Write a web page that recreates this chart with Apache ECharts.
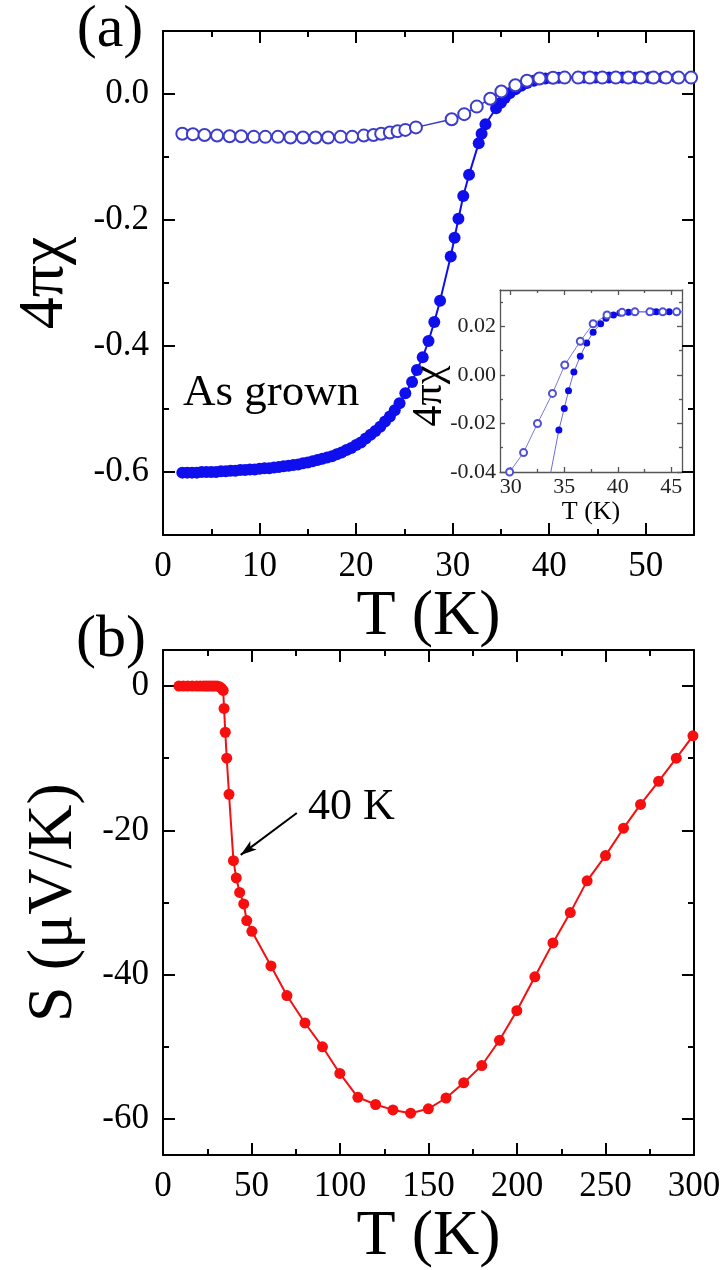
<!DOCTYPE html>
<html>
<head>
<meta charset="utf-8">
<script src="https://cdn.jsdelivr.net/npm/echarts@6/dist/echarts.min.js"></script>
<style>
  html, body { margin: 0; padding: 0; background: #fff; }
  #chart { width: 727px; height: 1270px; }
</style>
</head>
<body>
<div id="chart"></div>
<script>
// (a) susceptibility, zero-field-cooled (filled) and field-cooled (open)
const zfcT = [2.0, 2.5, 3.0, 3.5, 4.0, 4.5, 5.0, 5.5, 6.0, 6.5, 7.0, 7.5, 8.0, 8.5, 9.0, 9.5, 10.0, 10.5, 11.0, 11.5,
	12.0, 12.5, 13.0, 13.5, 14.0, 14.5, 15.0, 15.5, 16.0, 16.5, 17.0, 17.5, 18.0, 18.5, 19.0, 19.5, 20.0, 20.5, 21.0, 21.5,
	22.0, 22.5, 23.0, 23.5, 24.0, 24.5, 25.1, 25.8, 26.3, 26.9, 27.5, 28.1, 28.7, 29.8, 30.2, 30.6, 31.1, 31.7, 32.7, 33.0,
	33.4, 34.5, 35.0, 35.4, 35.9, 36.5, 37.1, 37.7, 38.4, 38.9, 39.6, 40.2, 41.0, 41.6, 43.2, 43.6, 44.8, 46.2, 47.6, 49.0,
	50.4, 51.8, 53.2, 54.6];
const zfcChi = [-0.601, -0.601, -0.601, -0.601, -0.600, -0.600, -0.600, -0.600, -0.599, -0.599, -0.598, -0.598, -0.597, -0.597, -0.596, -0.596, -0.595, -0.594, -0.594, -0.593,
	-0.592, -0.591, -0.590, -0.589, -0.588, -0.586, -0.585, -0.583, -0.581, -0.579, -0.577, -0.575, -0.572, -0.569, -0.565, -0.562, -0.557, -0.553, -0.547, -0.541,
	-0.535, -0.528, -0.520, -0.512, -0.502, -0.491, -0.475, -0.457, -0.438, -0.418, -0.392, -0.362, -0.328, -0.258, -0.228, -0.198, -0.162, -0.128, -0.078, -0.063,
	-0.048, -0.0227, -0.0138, -0.0065, 0.0012, 0.0077, 0.0132, 0.0176, 0.0211, 0.0234, 0.0247, 0.0255, 0.0258, 0.026, 0.026, 0.026, 0.026, 0.026, 0.026, 0.026,
	0.026, 0.026, 0.026, 0.026];
const fcT = [2.0, 3.1, 4.3, 5.6, 6.9, 8.1, 9.4, 10.6, 11.9, 13.2, 14.5, 15.8, 17.1, 18.4, 19.6, 20.8, 21.8, 22.6, 23.5, 24.3,
	25.1, 26.2, 29.9, 31.2, 32.5, 33.9, 35.05, 36.5, 37.7, 39.0, 40.4, 41.6, 43.0, 44.2, 45.5, 46.9, 48.2, 49.5, 50.8, 52.1,
	53.4, 54.7];
const fcChi = [-0.063, -0.064, -0.065, -0.066, -0.067, -0.067, -0.068, -0.068, -0.068, -0.069, -0.069, -0.069, -0.069, -0.068, -0.068, -0.066, -0.065, -0.063, -0.061, -0.059,
	-0.057, -0.053, -0.040, -0.032, -0.020, -0.0076, 0.0041, 0.0139, 0.0211, 0.0247, 0.0258, 0.026, 0.026, 0.026, 0.026, 0.026, 0.026, 0.026, 0.026, 0.026,
	0.026, 0.026];

// (b) thermopower
const sT = [9, 11.5, 14, 16.5, 19, 21, 23, 24.5, 26, 27.5, 29, 30.5, 32, 33, 34, 34.5, 35.2, 36.0, 37.3, 39.8,
	41.4, 43.3, 45.6, 47.3, 50.2, 61, 70, 80.2, 90.1, 99.9, 110.1, 120.1, 129.9, 139.9, 149.9, 159.9, 169.9, 180.1, 190.1, 199.9,
	210.1, 220.3, 230.1, 239.6, 250, 260.2, 269.8, 280, 290, 299.4];
const sVal = [0, 0, 0, 0, 0, 0, 0, 0, 0, 0, 0, 0, -0.1, -0.3, -0.6, -3.1, -6.4, -10.0, -15.0, -24.2,
	-26.6, -28.6, -30.2, -32.5, -34.0, -38.8, -42.9, -46.7, -50.0, -53.7, -57.0, -58.0, -58.75, -59.2, -58.6, -57.1, -55.0, -52.6, -49.1, -45.0,
	-40.3, -35.6, -31.4, -27.0, -23.5, -19.7, -16.4, -13.2, -10.0, -6.9];
const arrowFrom = [75.6, -17.6];
const arrowTo = [43.9, -23.4];

// ticks
const aXMajor = [0, 10, 20, 30, 40, 50];
const aXMinor = [5, 15, 25, 35, 45];
const aYMajor = [-0.6, -0.4, -0.2, 0];
const aYMinor = [-0.5, -0.3, -0.1];
const bXMajor = [0, 50, 100, 150, 200, 250, 300];
const bXMinor = [25, 75, 125, 175, 225, 275];
const bYMajor = [-60, -40, -20, 0];
const bYMinor = [-50, -30, -10];
const iXMajor = [30, 35, 40, 45];
const iXMinor = [32.5, 37.5, 42.5];
const iYMajor = [-0.04, -0.02, 0, 0.02];
const iYMinor = [-0.03, -0.01, 0.01, 0.03];

const FONT = 'Liberation Serif';

function pairs(xs, ys) {
	return xs.map(function (x, i) { return [x, ys[i]]; });
}

// four axes per dimension: labelled side major/minor, mirrored side major/minor
function frame(dim, grid, min, max, major, minor, st) {
	const sides = dim === 'x' ? ['bottom', 'top'] : ['left', 'right'];
	const list = [];
	sides.forEach(function (pos, s) {
		[major, minor].forEach(function (vals, m) {
			const first = s === 0 && m === 0;
			list.push({
				type: 'value', gridIndex: grid, position: pos, min: min, max: max,
				name: first ? st.name : '',
				nameLocation: 'middle', nameGap: st.nameGap, nameRotate: dim === 'y' ? 90 : 0,
				nameTextStyle: { fontFamily: FONT, fontSize: st.nameSize, color: '#000' },
				axisLine: { show: m === 0, onZero: false, lineStyle: { color: st.color, width: st.lw } },
				axisTick: { show: true, inside: true, length: m === 0 ? st.tick : st.minorTick, customValues: vals,
					lineStyle: { color: st.color, width: st.lw } },
				axisLabel: { show: first, customValues: major, margin: st.margin, fontFamily: FONT,
					fontSize: st.labelSize, color: st.labelColor, formatter: st.fmt },
				splitLine: { show: false },
				minorTick: { show: false }
			});
		});
	});
	return list;
}

const mainStyle = { color: '#000', lw: 2, tick: 12, minorTick: 6, margin: 14, labelSize: 35, labelColor: '#000', nameSize: 64 };
const insetStyle = { color: '#555', lw: 1.3, tick: 5, minorTick: 3, margin: 4, labelSize: 22, labelColor: '#222', nameSize: 26 };

const xAxes = [].concat(
	frame('x', 0, 0, 55, aXMajor, aXMinor, Object.assign({}, mainStyle, { name: 'T (K)', nameGap: 42, fmt: function (v) { return String(v); } })),
	frame('x', 1, 0, 300, bXMajor, bXMinor, Object.assign({}, mainStyle, { name: 'T (K)', nameGap: 50, fmt: function (v) { return String(v); } })),
	frame('x', 2, 29, 46, iXMajor, iXMinor, Object.assign({}, insetStyle, { name: 'T (K)', nameGap: 22, fmt: function (v) { return String(v); } }))
);
const yAxes = [].concat(
	frame('y', 0, -0.7, 0.1, aYMajor, aYMinor, Object.assign({}, mainStyle, { name: '4πχ', nameGap: 86, fmt: function (v) { return v.toFixed(1); } })),
	frame('y', 1, -65, 5, bYMajor, bYMinor, Object.assign({}, mainStyle, { name: 'S (μV/K)', nameGap: 77, fmt: function (v) { return String(v); } })),
	frame('y', 2, -0.04, 0.035, iYMajor, iYMinor, Object.assign({}, insetStyle, { name: '', nameGap: 0, fmt: function (v) { return v.toFixed(2); } }))
);

function txt(str, x, y, size, align, rot) {
	return {
		type: 'text', x: x, y: y, rotation: rot || 0, z: 100,
		style: { text: str, font: size + 'px "' + FONT + '"', fill: '#000', align: align || 'center', verticalAlign: 'middle' }
	};
}

const chart = echarts.init(document.getElementById('chart'));
chart.setOption({
	animation: false,
	backgroundColor: '#fff',
	grid: [
		{ left: 163, top: 31, width: 531, height: 504 },
		{ left: 163, top: 650, width: 531, height: 505 },
		{ left: 500, top: 290, width: 182, height: 182 }
	],
	xAxis: xAxes,
	yAxis: yAxes,
	graphic: [
		txt('(a)', 110, 30, 60),
		txt('(b)', 111, 640, 60),
		txt('As grown', 183, 393, 45, 'left'),
		txt('40 K', 308, 807, 44, 'left'),
		txt('4πχ', 430, 396, 42, 'center', Math.PI / 2)
	],
	series: [
		{
			type: 'line', xAxisIndex: 0, yAxisIndex: 0, data: pairs(zfcT, zfcChi),
			symbol: 'circle', symbolSize: 12,
			itemStyle: { color: '#0f0fee' }, lineStyle: { color: '#0f0fee', width: 2 }
		},
		{
			type: 'line', xAxisIndex: 0, yAxisIndex: 0, data: pairs(fcT, fcChi),
			symbol: 'emptyCircle', symbolSize: 12,
			itemStyle: { color: '#3b3bcc', borderWidth: 1.3 }, lineStyle: { color: '#3535c4', width: 1.5 }
		},
		{
			type: 'line', xAxisIndex: 8, yAxisIndex: 8, data: pairs(zfcT, zfcChi), clip: true,
			symbol: 'circle', symbolSize: 7,
			itemStyle: { color: '#0a0ae8' }, lineStyle: { color: '#6a6ae0', width: 1 }
		},
		{
			type: 'line', xAxisIndex: 8, yAxisIndex: 8, data: pairs(fcT, fcChi), clip: true,
			symbol: 'emptyCircle', symbolSize: 7,
			itemStyle: { color: '#5050d4', borderWidth: 1 }, lineStyle: { color: '#7a7ae0', width: 1 }
		},
		{
			type: 'line', xAxisIndex: 4, yAxisIndex: 4, data: pairs(sT, sVal),
			symbol: 'circle', symbolSize: 11,
			itemStyle: { color: '#f50f0f' }, lineStyle: { color: '#f50f0f', width: 2 },
			markLine: {
				silent: true, symbol: ['none', 'arrow'], symbolSize: [8, 16],
				label: { show: false },
				lineStyle: { color: '#000', width: 2, type: 'solid' },
				data: [[{ coord: arrowFrom }, { coord: arrowTo }]]
			}
		}
	]
});
</script>
</body>
</html>
